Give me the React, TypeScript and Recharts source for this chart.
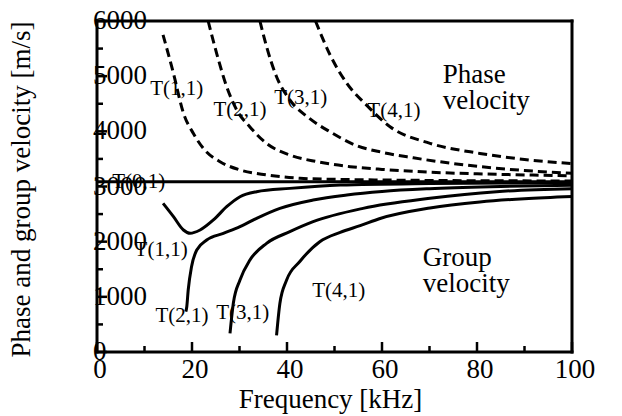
import React from 'react';
import { LineChart, Line, XAxis, YAxis, ReferenceDot } from 'recharts';

const FONT = "'Liberation Serif', 'Times New Roman', serif";

// Axis ticks (minor every 10 kHz / 500 m/s, labelled majors)
const freqTicks = [0, 10, 20, 30, 40, 50, 60, 70, 80, 90, 100];
const freqLabels = [0, 20, 40, 60, 80, 100];
const velTicks = [0, 500, 1000, 1500, 2000, 2500, 3000, 3500, 4000, 4500, 5000, 5500, 6000];
const velLabels = [0, 1000, 2000, 3000, 4000, 5000, 6000];

type Pt = { f: number; v: number };

// Fundamental torsional mode (non-dispersive)
const t01: Pt[] = [
  { f: 0, v: 3085 },
  { f: 100, v: 3085 },
];

// Phase velocity [m/s] vs frequency [kHz]
const t11Phase: Pt[] = [
  { f: 13.9, v: 5750 }, { f: 16.1, v: 5050 }, { f: 18.2, v: 4330 }, { f: 20.3, v: 3960 },
  { f: 22.7, v: 3660 }, { f: 25.9, v: 3450 }, { f: 30.1, v: 3300 }, { f: 35.7, v: 3210 },
  { f: 42.7, v: 3150 }, { f: 50, v: 3130 }, { f: 60, v: 3118 }, { f: 70, v: 3110 },
  { f: 80, v: 3105 }, { f: 100, v: 3100 },
];
const t21Phase: Pt[] = [
  { f: 23.4, v: 6000 }, { f: 25.2, v: 5410 }, { f: 27.3, v: 4810 }, { f: 29.4, v: 4390 },
  { f: 32.2, v: 4080 }, { f: 35.7, v: 3780 }, { f: 40.6, v: 3570 }, { f: 46.3, v: 3450 },
  { f: 53.3, v: 3360 }, { f: 60, v: 3310 }, { f: 70, v: 3260 }, { f: 80, v: 3230 },
  { f: 90, v: 3210 }, { f: 100, v: 3195 },
];
const t31Phase: Pt[] = [
  { f: 34.3, v: 6000 }, { f: 35.7, v: 5535 }, { f: 37.8, v: 4990 }, { f: 40.6, v: 4570 },
  { f: 44.8, v: 4230 }, { f: 49.1, v: 3990 }, { f: 54.7, v: 3740 }, { f: 60, v: 3620 },
  { f: 66.6, v: 3520 }, { f: 80.6, v: 3360 }, { f: 90, v: 3290 }, { f: 100, v: 3240 },
];
const t41Phase: Pt[] = [
  { f: 46, v: 6000 }, { f: 49.1, v: 5380 }, { f: 52.6, v: 4870 }, { f: 56.8, v: 4470 },
  { f: 61.7, v: 4084 }, { f: 70.1, v: 3783 }, { f: 80.6, v: 3600 }, { f: 90, v: 3490 },
  { f: 100, v: 3415 },
];

// Group velocity [m/s] vs frequency [kHz]
const t11Group: Pt[] = [
  { f: 13.9, v: 2695 }, { f: 16.1, v: 2453 }, { f: 18.2, v: 2211 }, { f: 19.6, v: 2151 },
  { f: 21.7, v: 2211 }, { f: 24.5, v: 2393 }, { f: 27.3, v: 2634 }, { f: 30.1, v: 2815 },
  { f: 33.6, v: 2906 }, { f: 40.6, v: 2966 }, { f: 51.2, v: 3027 }, { f: 70, v: 3055 },
  { f: 100, v: 3070 },
];
const t21Group: Pt[] = [
  { f: 18.7, v: 730 }, { f: 18.9, v: 821 }, { f: 19.2, v: 1124 }, { f: 19.9, v: 1546 },
  { f: 21, v: 1849 }, { f: 23.1, v: 2030 }, { f: 26.6, v: 2151 }, { f: 30.1, v: 2272 },
  { f: 33.6, v: 2423 }, { f: 38.5, v: 2604 }, { f: 45.5, v: 2755 }, { f: 52.6, v: 2846 },
  { f: 60, v: 2910 }, { f: 70, v: 2960 }, { f: 85, v: 3000 }, { f: 100, v: 3025 },
];
const t31Group: Pt[] = [
  { f: 28, v: 338 }, { f: 28.7, v: 883 }, { f: 30.1, v: 1305 }, { f: 32.2, v: 1668 },
  { f: 35.7, v: 1970 }, { f: 40.6, v: 2181 }, { f: 45.5, v: 2362 }, { f: 56, v: 2604 },
  { f: 70.1, v: 2785 }, { f: 84.1, v: 2906 }, { f: 100, v: 2960 },
];
const t41Group: Pt[] = [
  { f: 37.8, v: 300 }, { f: 38.5, v: 880 }, { f: 39.9, v: 1300 }, { f: 42.7, v: 1640 },
  { f: 46.9, v: 2000 }, { f: 51.2, v: 2170 }, { f: 55.4, v: 2290 }, { f: 59.6, v: 2420 },
  { f: 70.1, v: 2610 }, { f: 80.6, v: 2720 }, { f: 90, v: 2780 }, { f: 100, v: 2820 },
];

// Mode labels placed in data coordinates
const modeNotes = [
  { f: 8.8, v: 3100, text: 'T(0,1)' },
  { f: 16.8, v: 4785, text: 'T(1,1)' },
  { f: 30.1, v: 4405, text: 'T(2,1)' },
  { f: 42.9, v: 4622, text: 'T(3,1)' },
  { f: 62.5, v: 4386, text: 'T(4,1)' },
  { f: 13.5, v: 1867, text: 'T(1,1)' },
  { f: 17.9, v: 671, text: 'T(2,1)' },
  { f: 30.7, v: 725, text: 'T(3,1)' },
  { f: 50.9, v: 1124, text: 'T(4,1)' },
];
const regionNotes = [
  { f: 72.8, v: 4876, lines: ['Phase', 'velocity'] },
  { f: 68.6, v: 1559, lines: ['Group', 'velocity'] },
];

const TICK_W = 2.5;

const BottomTick = (props: any) => {
  const { x, y, payload } = props;
  const major = freqLabels.includes(payload.value);
  return (
    <g>
      <line x1={x} y1={y} x2={x} y2={y - (major ? 10 : 6)} stroke="#000" strokeWidth={TICK_W} />
      {major && (
        <text x={x + 3} y={y + 26} textAnchor="middle" fontFamily={FONT} fontSize={27} fill="#000">
          {payload.value}
        </text>
      )}
    </g>
  );
};

const TopTick = (props: any) => {
  const { x, y, payload } = props;
  const major = freqLabels.includes(payload.value);
  return <line x1={x} y1={y} x2={x} y2={y + (major ? 10 : 6)} stroke="#000" strokeWidth={TICK_W} />;
};

const LeftTick = (props: any) => {
  const { x, y, payload } = props;
  const major = velLabels.includes(payload.value);
  return (
    <g>
      <line x1={x} y1={y} x2={x + (major ? 10 : 6)} y2={y} stroke="#000" strokeWidth={TICK_W} />
      {major && (
        <text x={x - 4} y={y + 8} textAnchor="start" fontFamily={FONT} fontSize={27} fill="#000">
          {payload.value}
        </text>
      )}
    </g>
  );
};

const RightTick = (props: any) => {
  const { x, y, payload } = props;
  const major = velLabels.includes(payload.value);
  return <line x1={x} y1={y} x2={x - (major ? 10 : 6)} y2={y} stroke="#000" strokeWidth={TICK_W} />;
};

const axisLine = { stroke: '#000', strokeWidth: 3, strokeLinecap: 'square' as const };

export default function App() {
  return (
    <div style={{ position: 'absolute', left: 0, top: 0, background: '#fff' }}>
      <LineChart width={622} height={416} margin={{ top: 20, right: 49, bottom: 63, left: 96 }}>
        <XAxis
          xAxisId="b"
          dataKey="f"
          type="number"
          domain={[0, 100]}
          ticks={freqTicks}
          interval={0}
          height={1}
          tickSize={0}
          tickMargin={0}
          tickLine={false}
          axisLine={axisLine}
          tick={<BottomTick />}
          label={{
            value: 'Frequency [kHz]',
            content: (p: any) => (
              <text
                x={p.viewBox.x + p.viewBox.width / 2 - 4}
                y={p.viewBox.y + 56}
                textAnchor="middle"
                fontFamily={FONT}
                fontSize={27}
                fill="#000"
              >
                Frequency [kHz]
              </text>
            ),
          }}
        />
        <XAxis
          xAxisId="t"
          orientation="top"
          dataKey="f"
          type="number"
          domain={[0, 100]}
          ticks={freqTicks}
          interval={0}
          height={1}
          tickSize={0}
          tickMargin={0}
          tickLine={false}
          axisLine={axisLine}
          tick={<TopTick />}
        />
        <YAxis
          yAxisId="l"
          type="number"
          domain={[0, 6000]}
          ticks={velTicks}
          interval={0}
          width={1}
          tickSize={0}
          tickMargin={0}
          tickLine={false}
          axisLine={axisLine}
          tick={<LeftTick />}
          label={{
            value: 'Phase and group velocity [m/s]',
            content: (p: any) => {
              const cx = 30;
              const cy = p.viewBox.y + p.viewBox.height / 2 + 3;
              return (
                <text
                  x={cx}
                  y={cy}
                  transform={`rotate(-90 ${cx} ${cy})`}
                  textAnchor="middle"
                  fontFamily={FONT}
                  fontSize={27}
                  fill="#000"
                >
                  Phase and group velocity [m/s]
                </text>
              );
            },
          }}
        />
        <YAxis
          yAxisId="r"
          orientation="right"
          type="number"
          domain={[0, 6000]}
          ticks={velTicks}
          interval={0}
          width={1}
          tickSize={0}
          tickMargin={0}
          tickLine={false}
          axisLine={axisLine}
          tick={<RightTick />}
        />

        {[t11Phase, t21Phase, t31Phase, t41Phase].map((d, i) => (
          <Line
            key={`p${i}`}
            xAxisId="b"
            yAxisId="l"
            data={d}
            dataKey="v"
            type="monotone"
            stroke="#000"
            strokeWidth={3}
            strokeDasharray="9 5"
            dot={false}
            activeDot={false}
            isAnimationActive={false}
          />
        ))}
        {[t01, t11Group, t21Group, t31Group, t41Group].map((d, i) => (
          <Line
            key={`g${i}`}
            xAxisId="b"
            yAxisId="l"
            data={d}
            dataKey="v"
            type="monotone"
            stroke="#000"
            strokeWidth={3}
            dot={false}
            activeDot={false}
            isAnimationActive={false}
          />
        ))}

        {modeNotes.map((n, i) => (
          <ReferenceDot
            key={`m${i}`}
            xAxisId="b"
            yAxisId="l"
            x={n.f}
            y={n.v}
            r={0}
            fill="none"
            stroke="none"
            label={{
              value: n.text,
              content: (p: any) => (
                <text
                  x={p.viewBox.x}
                  y={p.viewBox.y + 7}
                  textAnchor="middle"
                  fontFamily={FONT}
                  fontSize={21}
                  fill="#000"
                >
                  {n.text}
                </text>
              ),
            }}
          />
        ))}
        {regionNotes.map((n, i) => (
          <ReferenceDot
            key={`r${i}`}
            xAxisId="b"
            yAxisId="l"
            x={n.f}
            y={n.v}
            r={0}
            fill="none"
            stroke="none"
            label={{
              value: n.lines.join(' '),
              content: (p: any) => (
                <text x={p.viewBox.x} y={p.viewBox.y} textAnchor="start" fontFamily={FONT} fontSize={27} fill="#000">
                  <tspan x={p.viewBox.x} dy={0}>{n.lines[0]}</tspan>
                  <tspan x={p.viewBox.x} dy={26}>{n.lines[1]}</tspan>
                </text>
              ),
            }}
          />
        ))}
      </LineChart>
    </div>
  );
}
